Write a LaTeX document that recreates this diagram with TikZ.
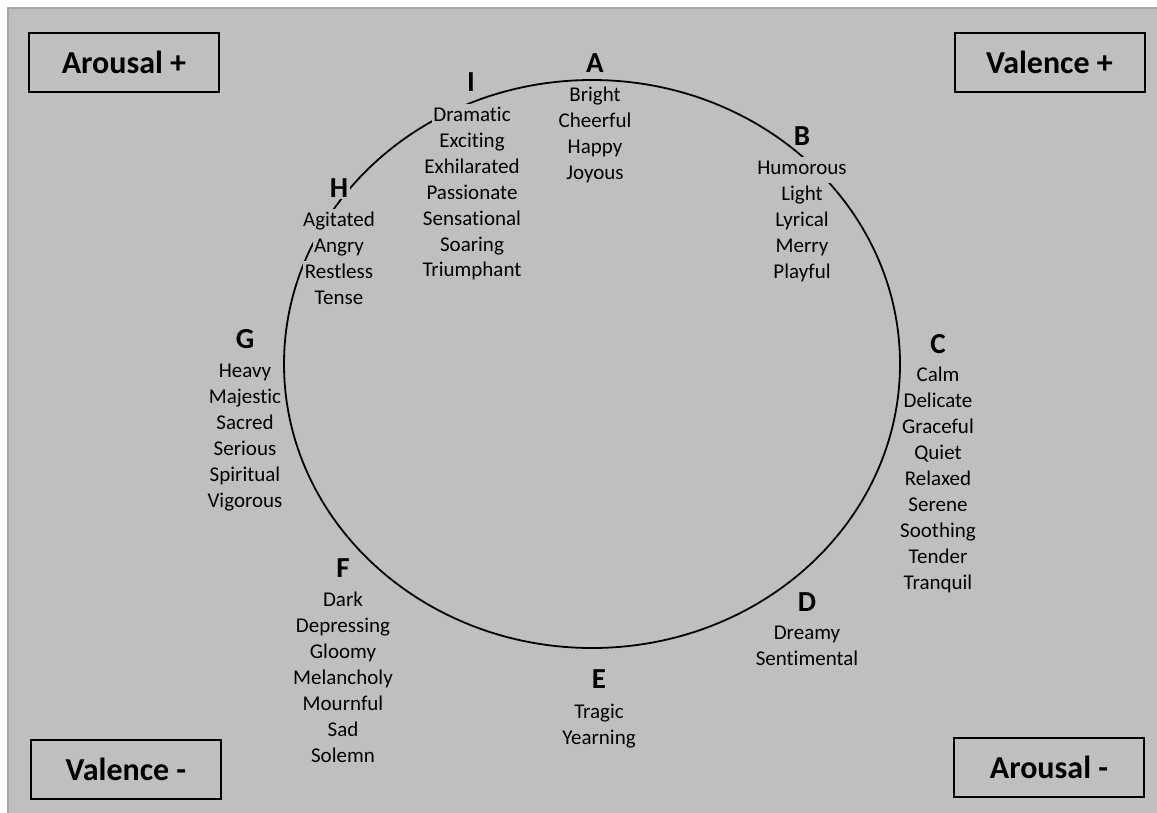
\documentclass[tikz,border=0pt]{standalone}
\usepackage{fontspec}
\setmainfont{Carlito}[Ligatures=NoCommon]
\definecolor{bg}{RGB}{191,191,191}
\definecolor{edgegray}{RGB}{165,165,165}
\begin{document}
\begin{tikzpicture}[x=1pt,y=-1pt,
  word/.style={fill=bg, inner xsep=1.5pt, inner ysep=2.5pt, text height=15pt, text depth=6pt, anchor=base, font=\fontsize{21}{25}\selectfont},
  letter/.style={fill=bg, inner xsep=1.5pt, inner ysep=2pt, anchor=base, font=\fontsize{29}{34}\selectfont\bfseries},
  axisbox/.style={draw=black, line width=2pt, minimum width=190pt, minimum height=59pt, inner sep=0pt, font=\fontsize{32}{38}\selectfont\bfseries},
  ring/.style={line width=1.8pt}]
\useasboundingbox (0,0) rectangle (1157,812);
\fill[white] (0,0) rectangle (1157,812);
\filldraw[fill=bg, draw=edgegray, line width=2pt] (8,8) rectangle (1175,830);
% circle
\draw[ring] (592,364) ellipse [x radius=308, y radius=284];
% axis boxes
\node[axisbox] (arousalplus) at (124,62.5) {Arousal +};
\node[axisbox] (valenceplus) at (1049.5,62.5) {Valence +};
\node[axisbox] (valenceminus) at (126,769.5) {Valence -};
\node[axisbox] (arousalminus) at (1049,767.5) {Arousal -};
% A
\node[letter] (A) at (595,72) {A};
\foreach \w [count=\i] in {Bright,Cheerful,Happy,Joyous}
  \node[word] (A\i) at (595,{101+26*(\i-1)}) {\w};
% B
\node[letter] (B) at (802,145) {B};
\foreach \w [count=\i] in {Humorous,Light,Lyrical,Merry,Playful}
  \node[word] (B\i) at (802,{174.5+26*(\i-1)}) {\w};
% C
\node[letter] (C) at (938,353) {C};
\foreach \w [count=\i] in {Calm,Delicate,Graceful,Quiet,Relaxed,Serene,Soothing,Tender,Tranquil}
  \node[word] (C\i) at (938,{381+26*(\i-1)}) {\w};
% D
\node[letter] (D) at (807,611) {D};
\foreach \w [count=\i] in {Dreamy,Sentimental}
  \node[word] (D\i) at (807,{639+26*(\i-1)}) {\w};
% E
\node[letter] (E) at (599,688) {E};
\foreach \w [count=\i] in {Tragic,Yearning}
  \node[word] (E\i) at (599,{718+26*(\i-1)}) {\w};
% F
\node[letter] (F) at (343,577) {F};
\foreach \w [count=\i] in {Dark,Depressing,Gloomy,Melancholy,Mournful,Sad,Solemn}
  \node[word] (F\i) at (343,{606+26*(\i-1)}) {\w};
% G
\node[letter] (G) at (245,348) {G};
\foreach \w [count=\i] in {Heavy,Majestic,Sacred,Serious,Spiritual,Vigorous}
  \node[word] (G\i) at (245,{377.5+26*(\i-1)}) {\w};
% H
\node[letter] (H) at (339,197) {H};
\foreach \w [count=\i] in {Agitated,Angry,Restless,Tense}
  \node[word] (H\i) at (339,{226.5+26*(\i-1)}) {\w};
% I
\node[letter] (I) at (471,91) {I};
\foreach \w [count=\i] in {Dramatic,Exciting,Exhilarated,Passionate,Sensational,Soaring,Triumphant}
  \node[word] (I\i) at (472,{121.5+25.9*(\i-1)}) {\w};
\end{tikzpicture}
\end{document}
